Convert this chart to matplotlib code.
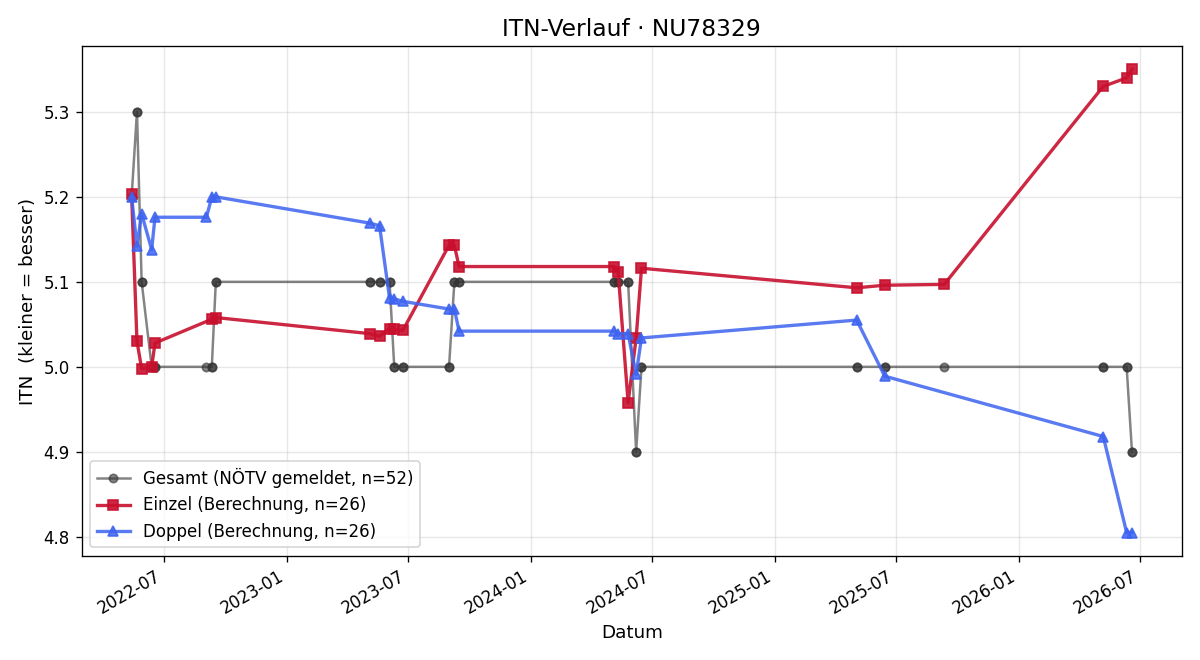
import pandas as pd
import matplotlib
matplotlib.use("Agg")
import matplotlib.pyplot as plt
import matplotlib.dates as mdates

# Einzel (singles) ITN calculation
einzel_dates = ["2022-05-14", "2022-05-22", "2022-05-29", "2022-06-13", "2022-06-18",
                "2022-09-11", "2022-09-17",
                "2023-05-06", "2023-05-20", "2023-06-04", "2023-06-11", "2023-06-24",
                "2023-09-01", "2023-09-09", "2023-09-16",
                "2024-05-05", "2024-05-11", "2024-05-26", "2024-06-07", "2024-06-15",
                "2025-05-03", "2025-06-14", "2025-09-11",
                "2026-05-07", "2026-06-11", "2026-06-19"]
einzel_itn = [5.203, 5.030, 4.998, 5.000, 5.028,
              5.056, 5.058,
              5.039, 5.036, 5.045, 5.044, 5.043,
              5.143, 5.143, 5.118,
              5.118, 5.112, 4.958, 5.034, 5.116,
              5.093, 5.096, 5.097,
              5.330, 5.340, 5.350]

# Doppel (doubles) ITN calculation
doppel_dates = ["2022-05-14", "2022-05-22", "2022-05-29", "2022-06-13", "2022-06-18",
                "2022-09-03", "2022-09-11", "2022-09-17",
                "2023-05-06", "2023-05-20", "2023-06-04", "2023-06-11", "2023-06-24",
                "2023-09-01", "2023-09-09", "2023-09-16",
                "2024-05-05", "2024-05-11", "2024-05-26", "2024-06-07", "2024-06-15",
                "2025-05-03", "2025-06-14",
                "2026-05-07", "2026-06-11", "2026-06-19"]
doppel_itn = [5.200, 5.142, 5.180, 5.138, 5.176,
              5.176, 5.200, 5.200,
              5.169, 5.166, 5.081, 5.080, 5.077,
              5.068, 5.068, 5.042,
              5.042, 5.039, 5.039, 4.991, 5.034,
              5.055, 4.989,
              4.918, 4.805, 4.805]

# Gesamt (reported by NÖTV) at the Einzel and Doppel match dates
gesamt_at_einzel = [5.2, 5.3, 5.1, 5.0, 5.0,
                    5.0, 5.1,
                    5.1, 5.1, 5.1, 5.0, 5.0,
                    5.0, 5.1, 5.1,
                    5.1, 5.1, 5.1, 4.9, 5.0,
                    5.0, 5.0, 5.0,
                    5.0, 5.0, 4.9]
gesamt_at_doppel = [5.2, 5.3, 5.1, 5.0, 5.0,
                    5.0, 5.0, 5.1,
                    5.1, 5.1, 5.1, 5.0, 5.0,
                    5.0, 5.1, 5.1,
                    5.1, 5.1, 5.1, 4.9, 5.0,
                    5.0, 5.0,
                    5.0, 5.0, 4.9]

einzel = pd.DataFrame({"date": pd.to_datetime(einzel_dates), "itn": einzel_itn})
doppel = pd.DataFrame({"date": pd.to_datetime(doppel_dates), "itn": doppel_itn})
gesamt = pd.concat([
    pd.DataFrame({"date": pd.to_datetime(einzel_dates), "itn": gesamt_at_einzel}),
    pd.DataFrame({"date": pd.to_datetime(doppel_dates), "itn": gesamt_at_doppel}),
]).sort_values("date", kind="stable")

fig, ax = plt.subplots(figsize=(10, 5.5), dpi=120)

ax.plot(gesamt["date"], gesamt["itn"], "-o", color="#333333", alpha=0.6, lw=1.5, ms=5,
        label=f"Gesamt (NÖTV gemeldet, n={len(gesamt)})")
ax.plot(einzel["date"], einzel["itn"], "-s", color="#c8102e", alpha=0.9, lw=2, ms=6,
        label=f"Einzel (Berechnung, n={len(einzel)})")
ax.plot(doppel["date"], doppel["itn"], "-^", color="#3d63f0", alpha=0.85, lw=2, ms=6,
        label=f"Doppel (Berechnung, n={len(doppel)})")

ax.set_title("ITN-Verlauf · NU78329", fontsize=14)
ax.set_xlabel("Datum", fontsize=11)
ax.set_ylabel("ITN  (kleiner = besser)", fontsize=11)
ax.grid(True, alpha=0.3)
ax.xaxis.set_major_locator(mdates.MonthLocator(bymonth=(1, 7)))
ax.xaxis.set_major_formatter(mdates.DateFormatter("%Y-%m"))
ax.legend(loc="lower left")
fig.autofmt_xdate()

fig.subplots_adjust(left=0.068, right=0.985, top=0.93, bottom=0.158)
plt.savefig("out.png", dpi=120)
